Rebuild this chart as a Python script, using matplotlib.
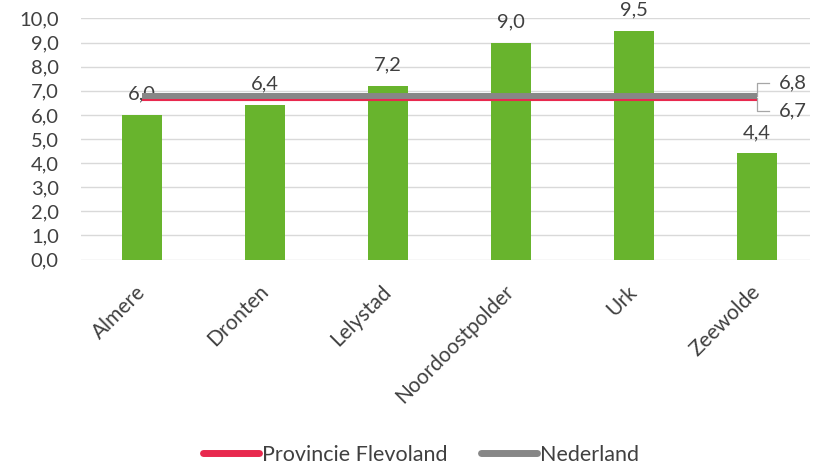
import matplotlib
matplotlib.use("Agg")
import matplotlib.pyplot as plt

# Data
gemeenten = ["Almere", "Dronten", "Lelystad", "Noordoostpolder", "Urk", "Zeewolde"]
waarden = [6.0, 6.4, 7.2, 9.0, 9.5, 4.4]
provincie_flevoland = 6.7
nederland = 6.8
yticks = [0, 1, 2, 3, 4, 5, 6, 7, 8, 9, 10]


def fmt(v):
    return f"{v:.1f}".replace(".", ",")


plt.rcParams["font.family"] = ["Lato", "DejaVu Sans"]
text_color = "#404040"
fs = 14.5

fig = plt.figure(figsize=(8.16, 4.69), dpi=100)
W, H = 816, 469
left_px, right_px, top_px, bottom_px = 81, 810, 18.5, 259.5
ax = fig.add_axes([left_px / W, 1 - bottom_px / H,
                   (right_px - left_px) / W, (bottom_px - top_px) / H])

x = list(range(len(gemeenten)))
ax.bar(x, waarden, width=0.32, color="#68b42d", zorder=2)

for xi, v in zip(x, waarden):
    ax.annotate(fmt(v), (xi, v), xytext=(0, 9),
                textcoords="offset points", ha="center", va="bottom",
                fontsize=fs, color=text_color)

ax.plot([x[0], x[-1]], [provincie_flevoland] * 2, color="#e8294e", lw=4.4,
        solid_capstyle="butt", zorder=3, label="Provincie Flevoland")
ax.plot([x[0], x[-1]], [nederland] * 2, color="#878787", lw=4.3,
        solid_capstyle="butt", zorder=4, label="Nederland")

# End labels with bracket leaders
xe = x[-1]
y_top, y_bot = 7.33, 6.15
ax.plot([xe, xe, xe + 0.1], [nederland, y_top, y_top], color="#a6a6a6",
        lw=0.9, zorder=1, clip_on=False)
ax.plot([xe, xe, xe + 0.1], [provincie_flevoland, y_bot, y_bot],
        color="#a6a6a6", lw=0.9, zorder=1, clip_on=False)
ax.text(xe + 0.18, y_top, fmt(nederland), ha="left", va="center",
        fontsize=fs, color=text_color, clip_on=False)
ax.text(xe + 0.18, y_bot, fmt(provincie_flevoland), ha="left", va="center",
        fontsize=fs, color=text_color, clip_on=False)

# Category centres at 142 px, spaced 123 px
ax.set_xlim((left_px - 142) / 123, (right_px - 142) / 123)
ax.set_ylim(0, 10)
ax.set_yticks(yticks)
ax.set_yticklabels([fmt(t) for t in yticks], fontsize=fs, color=text_color)
ax.set_xticks(x)
ax.set_xticklabels(gemeenten, rotation=45, ha="right", va="center",
                   rotation_mode="anchor", fontsize=fs + 0.5, color=text_color)
ax.tick_params(axis="both", length=0)
ax.tick_params(axis="x", pad=21)
ax.tick_params(axis="y", pad=16)
ax.grid(axis="y", color="#d9d9d9", lw=1, zorder=0)
ax.set_axisbelow(True)
for s in ax.spines.values():
    s.set_visible(False)

leg = fig.legend(handles=ax.get_lines()[:2], loc="center",
                 bbox_to_anchor=(421 / W, 1 - 455 / H), ncol=2, frameon=False,
                 fontsize=15.5, handlelength=2.6, handletextpad=0.1,
                 columnspacing=1.6, labelcolor=text_color)
for line in leg.get_lines():
    line.set_linewidth(5)
    line.set_solid_capstyle("round")

fig.savefig("out.png", dpi=100)
